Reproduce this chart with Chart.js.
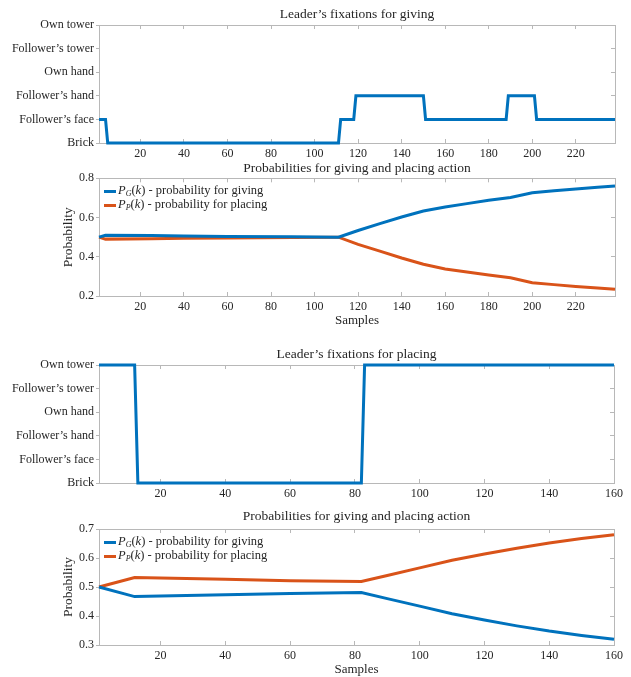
<!DOCTYPE html>
<html>
<head>
<meta charset="utf-8">
<script src="https://cdn.jsdelivr.net/npm/chart.js@4.4.1/dist/chart.umd.min.js"></script>
<style>
  html, body { margin: 0; padding: 0; background: #fff; }
  #page { position: relative; width: 631px; height: 677px; overflow: hidden; }
  .panel { position: absolute; left: 0; width: 631px; }
  .panel canvas { position: absolute; left: 0; top: 0; }
  .legend { position: absolute; font: 12.5px "Liberation Serif", serif; color: #262626; line-height: 14px; }
  .legend div { white-space: nowrap; }
  .legend .sw { display: inline-block; width: 12px; height: 3px; vertical-align: middle; margin-right: 2px; }
  .legend sub { font-size: 8px; vertical-align: -2px; line-height: 0; }
</style>
</head>
<body>
<div id="page">
  <div class="panel" style="top:0;height:165px"><canvas id="giveFix" width="631" height="165"></canvas></div>
  <div class="panel" style="top:160px;height:175px"><canvas id="giveProb" width="631" height="175"></canvas><div class="legend" id="giveLegend"></div></div>
  <div class="panel" style="top:340px;height:165px"><canvas id="placeFix" width="631" height="165"></canvas></div>
  <div class="panel" style="top:505px;height:172px"><canvas id="placeProb" width="631" height="172"></canvas><div class="legend" id="placeLegend"></div></div>
</div>
<script>
// fixation targets, bottom to top of the axis
const fixationLabels = ['Brick', 'Follower’s face', 'Follower’s hand', 'Own hand', 'Follower’s tower', 'Own tower'];

// giving trial: sample where the gaze target changes -> target index
const giveFixSamples = [1, 4, 5, 111, 112, 118, 119, 150, 151, 188, 189, 201, 202, 238];
const giveFixTarget  = [1, 1, 0, 0, 1, 1, 2, 2, 1, 1, 2, 2, 1, 1];

const giveSamples = [1, 4, 25, 40, 60, 90, 111, 120, 130, 140, 150, 160, 170, 180, 190, 200, 210, 220, 230, 238];
const giveProbG = [0.5, 0.51, 0.508, 0.506, 0.504, 0.502, 0.5, 0.534, 0.569, 0.603, 0.633, 0.654, 0.671, 0.688, 0.702, 0.726, 0.737, 0.746, 0.754, 0.761];
const giveProbP = [0.5, 0.49, 0.492, 0.494, 0.496, 0.498, 0.5, 0.463, 0.429, 0.394, 0.362, 0.338, 0.322, 0.307, 0.293, 0.268, 0.258, 0.249, 0.241, 0.235];

// placing trial
const placeFixSamples = [1, 12, 13, 82, 83, 160];
const placeFixTarget  = [5, 5, 0, 0, 5, 5];

const placeSamples = [1, 12, 40, 60, 82, 90, 100, 110, 120, 130, 140, 150, 160];
const placeProbG = [0.5, 0.467, 0.473, 0.478, 0.481, 0.46, 0.434, 0.408, 0.386, 0.366, 0.348, 0.333, 0.32];
const placeProbP = [0.5, 0.533, 0.527, 0.522, 0.519, 0.54, 0.566, 0.592, 0.614, 0.634, 0.652, 0.667, 0.68];

const giveXTicks = [20, 40, 60, 80, 100, 120, 140, 160, 180, 200, 220];
const placeXTicks = [20, 40, 60, 80, 100, 120, 140, 160];
const fixYTicks = [0, 1, 2, 3, 4, 5];
const giveYTicks = [0.2, 0.4, 0.6, 0.8];
const placeYTicks = [0.3, 0.4, 0.5, 0.6, 0.7];

const labelG = 'P_G(k) - probability for giving';
const labelP = 'P_P(k) - probability for placing';

const blue = '#0072BD';
const orange = '#D95319';
const boxColor = '#b8b8b8';
const textColor = '#262626';
const serif = '"Liberation Serif", "DejaVu Serif", serif';

function points(xs, ys) {
  return xs.map((x, i) => ({ x: x, y: ys[i] }));
}

function setTicks(values) {
  return function (scale) { scale.ticks = values.map(v => ({ value: v })); };
}

function mathLabel(text) {
  return text.replace(/P_(\w)\(k\)/, '<i>P</i><sub><i>$1</i></sub>(<i>k</i>)');
}

const htmlLegend = {
  id: 'htmlLegend',
  afterUpdate(chart, args, opts) {
    if (!opts.container) return;
    const box = document.getElementById(opts.container);
    box.innerHTML = '';
    box.style.left = (chart.chartArea.left + 5) + 'px';
    box.style.top = (chart.chartArea.top + 5) + 'px';
    chart.data.datasets.forEach(ds => {
      const row = document.createElement('div');
      row.innerHTML = '<span class="sw" style="background:' + ds.borderColor + '"></span>' + mathLabel(ds.label);
      box.appendChild(row);
    });
  }
};

function makeChart(id, p) {
  const font = { family: serif, size: 12 };
  const axisCommon = {
    type: 'linear',
    border: { color: boxColor, width: 1 }
  };
  p.datasets.forEach(ds => { ds.clip = 4; });
  return new Chart(document.getElementById(id), {
    type: 'line',
    data: { datasets: p.datasets },
    plugins: [htmlLegend],
    options: {
      responsive: false,
      animation: false,
      events: [],
      layout: { padding: { top: p.padTop, left: 0, right: 16, bottom: 0 } },
      elements: {
        point: { radius: 0 },
        line: { borderWidth: 3, tension: 0, fill: false }
      },
      plugins: {
        legend: { display: false },
        tooltip: { enabled: false },
        htmlLegend: { container: p.legend || null },
        title: {
          display: true,
          fullSize: false,
          text: p.title,
          color: textColor,
          font: { family: serif, size: 13.5, weight: 'normal', lineHeight: 1.15 },
          padding: { top: 0, bottom: p.titleGap }
        }
      },
      scales: {
        x: Object.assign({}, axisCommon, {
          position: 'bottom',
          min: 1,
          max: p.xMax,
          afterBuildTicks: setTicks(p.xTicks),
          afterFit: s => { s.height = p.xHeight; },
          grid: { drawOnChartArea: false, tickLength: -4, color: boxColor },
          ticks: { padding: 8, color: textColor, font: font, autoSkip: false, maxRotation: 0 },
          title: {
            display: !!p.xTitle,
            text: p.xTitle || '',
            color: textColor,
            font: { family: serif, size: 13 },
            padding: { top: 0, bottom: p.xTitlePad || 0 }
          }
        }),
        x2: Object.assign({}, axisCommon, {
          position: 'top',
          min: 1,
          max: p.xMax,
          afterBuildTicks: setTicks(p.xTicks),
          afterFit: s => { s.height = 0; },
          grid: { drawOnChartArea: false, tickLength: -4, color: boxColor },
          ticks: { display: false }
        }),
        y: Object.assign({}, axisCommon, {
          position: 'left',
          min: p.yMin,
          max: p.yMax,
          afterBuildTicks: setTicks(p.yTicks),
          afterFit: s => { s.width = 99; },
          grid: { drawOnChartArea: false, tickLength: 3, color: boxColor },
          ticks: { padding: 2, color: textColor, font: font, autoSkip: false, callback: p.yLabel },
          title: {
            display: !!p.yTitle,
            text: p.yTitle || '',
            color: textColor,
            font: { family: serif, size: 13.5 },
            padding: { top: 60, bottom: 0 }
          }
        }),
        y2: Object.assign({}, axisCommon, {
          position: 'right',
          min: p.yMin,
          max: p.yMax,
          afterBuildTicks: setTicks(p.yTicks),
          afterFit: s => { s.width = 0; },
          grid: { drawOnChartArea: false, tickLength: -4, color: boxColor },
          ticks: { display: false }
        })
      }
    }
  });
}

const fixLabel = v => fixationLabels[v];
const probLabel = v => v.toFixed(1);

makeChart('giveFix', {
  title: 'Leader’s fixations for giving',
  padTop: 7, titleGap: 2.5, xHeight: 22,
  xMax: 238, xTicks: giveXTicks,
  yMin: 0, yMax: 5, yTicks: fixYTicks, yLabel: fixLabel,
  datasets: [{ label: 'fixation', data: points(giveFixSamples, giveFixTarget), borderColor: blue }]
});

makeChart('giveProb', {
  title: 'Probabilities for giving and placing action',
  padTop: 1, titleGap: 1.8, xHeight: 39, xTitle: 'Samples', xTitlePad: 7,
  xMax: 238, xTicks: giveXTicks,
  yMin: 0.2, yMax: 0.8, yTicks: giveYTicks, yLabel: probLabel, yTitle: 'Probability',
  legend: 'giveLegend',
  datasets: [
    { label: labelG, data: points(giveSamples, giveProbG), borderColor: blue },
    { label: labelP, data: points(giveSamples, giveProbP), borderColor: orange }
  ]
});

makeChart('placeFix', {
  title: 'Leader’s fixations for placing',
  padTop: 7, titleGap: 2.5, xHeight: 22,
  xMax: 160, xTicks: placeXTicks,
  yMin: 0, yMax: 5, yTicks: fixYTicks, yLabel: fixLabel,
  datasets: [{ label: 'fixation', data: points(placeFixSamples, placeFixTarget), borderColor: blue }]
});

makeChart('placeProb', {
  title: 'Probabilities for giving and placing action',
  padTop: 4, titleGap: 4.5, xHeight: 32, xTitle: 'Samples', xTitlePad: 0,
  xMax: 160, xTicks: placeXTicks,
  yMin: 0.3, yMax: 0.7, yTicks: placeYTicks, yLabel: probLabel, yTitle: 'Probability',
  legend: 'placeLegend',
  datasets: [
    { label: labelG, data: points(placeSamples, placeProbG), borderColor: blue },
    { label: labelP, data: points(placeSamples, placeProbP), borderColor: orange }
  ]
});
</script>
</body>
</html>
